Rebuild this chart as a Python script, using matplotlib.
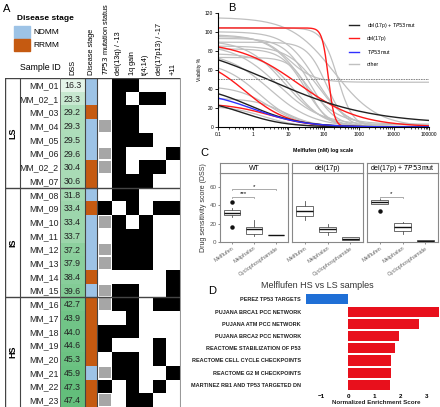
import numpy as np
import matplotlib
matplotlib.use("Agg")
import matplotlib.pyplot as plt
from matplotlib.patches import Rectangle
from matplotlib.lines import Line2D
from matplotlib.colors import LinearSegmentedColormap, Normalize

plt.rcParams["font.family"] = ["Liberation Sans", "DejaVu Sans"]

# ---------------- data: panel A ----------------
sample_ids = ["MM_01", "MM_02_1", "MM_03", "MM_04", "MM_05", "MM_06", "MM_02_2", "MM_07",
              "MM_08", "MM_09", "MM_10", "MM_11", "MM_12", "MM_13", "MM_14", "MM_15",
              "MM_16", "MM_17", "MM_18", "MM_19", "MM_20", "MM_21", "MM_22", "MM_23"]
dss = [16.3, 23.3, 29.2, 29.3, 29.5, 29.6, 30.4, 30.6,
       31.8, 33.4, 33.4, 33.7, 37.2, 37.9, 38.4, 39.6,
       42.7, 43.9, 44.0, 44.6, 45.3, 45.9, 47.3, 47.4]
groups = ["LS", "IS", "HS"]
group_sizes = [8, 8, 8]
# disease stage: N = NDMM, R = RRMM
stage = ["N", "N", "R", "N", "N", "N", "R", "R",
         "N", "R", "N", "N", "N", "N", "R", "N",
         "R", "R", "R", "R", "R", "N", "R", "R"]
# TP53 status: 0 = none, 1 = grey, 2 = black
tp53 = [0, 0, 0, 1, 0, 1, 1, 0,
        0, 2, 1, 0, 1, 1, 0, 1,
        1, 0, 2, 2, 0, 1, 2, 1]
cyto_labels = ["del(13q) / -13", "1q gain", "t(4;14)", "del(17p13) / -17", "+11"]
del13q = [1, 1, 1, 1, 1, 1, 1, 1, 1, 0, 1, 1, 1, 1, 0, 1, 1, 0, 1, 0, 1, 1, 0, 0]
gain1q = [1, 0, 1, 1, 1, 0, 0, 1, 1, 1, 0, 1, 1, 1, 0, 1, 1, 1, 1, 0, 1, 1, 1, 1]
t414 = [0, 1, 0, 0, 1, 0, 1, 1, 0, 0, 1, 1, 1, 1, 0, 0, 0, 0, 0, 0, 0, 0, 0, 1]
del17p = [0, 1, 0, 0, 0, 0, 1, 0, 0, 1, 0, 0, 0, 0, 0, 0, 1, 0, 0, 1, 1, 0, 1, 0]
plus11 = [0, 0, 0, 0, 0, 1, 0, 0, 0, 1, 0, 0, 0, 0, 1, 1, 1, 0, 0, 0, 0, 1, 0, 0]

# ---------------- data: panel B (fitted curves: top, bottom, EC50 nM, hill) ----------------
curves_other = [(115, 0, 200, 0.7), (100, 0, 60, 1.0), (97, 3, 25, 0.9), (95, 47, 10, 1.2),
                (93, 0, 40, 1.2), (91, 0, 8, 0.8), (89, 0, 120, 1.6), (87, 2, 5, 0.7),
                (85, 0, 70, 1.0), (82, 0, 30, 1.3), (79, 0, 3, 0.7), (77, 0, 15, 1.0),
                (73, 0, 40, 1.6), (69, 0, 1.5, 0.8), (43, 0, 3, 0.9), (30, 0, 8, 1.0),
                (22, 0, 2, 0.9), (104, 0, 250, 2.0)]
curves_del17p = [(104, 0, 137, 5.0), (90, 0, 20, 0.5), (75, 0, 0.6, 0.7), (25, 0, 3, 0.7)]
curves_both = [(95, 3, 3, 0.3), (45, 0, 0.8, 0.6), (30, 0, 0.5, 0.7)]
curves_tp53 = [(38, 0, 1.0, 0.6)]

# ---------------- data: panel C (box summaries) ----------------
drugs = ["Melflufen", "Melphalan", "Cyclophosphamide"]
facets = ["WT", "del(17p)", r"del(17p) + $\it{TP53}$mut"]
box_q1 = [[29.5, 8.7, 7.0], [28.4, 10.2, 2.2], [41.0, 11.3, 1.0]]
box_med = [[32.0, 13.8, 7.2], [34.0, 13.8, 3.5], [43.6, 16.0, 1.2]]
box_q3 = [[35.0, 16.0, 7.4], [39.6, 16.7, 4.7], [45.8, 20.4, 1.4]]
box_lo = [[27.0, 6.5, 7.0], [24.0, 7.6, 2.2], [41.0, 8.0, 1.0]]
box_hi = [[37.4, 24.0, 7.4], [44.7, 19.6, 4.7], [46.5, 22.0, 1.4]]
box_out = [[[43.6, 16.0], [], []], [[], [], []], [[33.8], [], []]]

# ---------------- data: panel D ----------------
gene_sets = ["PEREZ TP53 TARGETS", "PUJANA BRCA1 PCC NETWORK", "PUJANA ATM PCC NETWORK",
             "PUJANA BRCA2 PCC NETWORK", "REACTOME STABILIZATION OF P53",
             "REACTOME CELL CYCLE CHECKPOINTS", "REACTOME G2 M CHECKPOINTS",
             "MARTINEZ RB1 AND TP53 TARGETED DN"]
nes = [-1.6, 3.45, 2.68, 1.93, 1.78, 1.64, 1.62, 1.61]

W, H = 440, 407
fig = plt.figure(figsize=(W / 100, H / 100), dpi=100)


def rect(x0, y0, x1, y1):
    return [x0 / W, 1 - y1 / H, (x1 - x0) / W, (y1 - y0) / H]


over = fig.add_axes([0, 0, 1, 1], zorder=-5)
over.set_xlim(0, W)
over.set_ylim(H, 0)
over.axis("off")

for lab, x, y in [("A", 3, 9), ("B", 228, 8), ("C", 200, 153), ("D", 208, 291)]:
    over.text(x, y, lab, fontsize=8, va="center", ha="left")

# ---------------- Panel A ----------------
blue_c, orange_c, grey_c = "#9dc3e6", "#c55a11", "#a6a6a6"
over.text(17, 18, "Disease stage", fontsize=6, fontweight="bold", va="center")
over.add_patch(Rectangle((14, 26), 16, 12, color=blue_c))
over.add_patch(Rectangle((14, 39), 16, 12, color=orange_c))
over.text(33, 32.5, "NDMM", fontsize=6, va="center")
over.text(33, 45.5, "RRMM", fontsize=6, va="center")

axA = fig.add_axes(rect(5, 78, 181, 407))
axA.set_xlim(5, 181)
axA.set_ylim(len(sample_ids), 0)
axA.axis("off")

cols = {"grp": (5, 20), "id": (20, 60), "dss": (60, 85), "stage": (85, 97)}
heat_x = [98, 112, 125.5, 139, 152.5, 166, 180]
cmap = LinearSegmentedColormap.from_list("g", ["#e4f4e8", "#63be7b"])
norm = Normalize(min(dss), max(dss))
n = len(sample_ids)
for i in range(n):
    x0, x1 = cols["dss"]
    axA.add_patch(Rectangle((x0, i), x1 - x0, 1, color=cmap(norm(dss[i])), lw=0))
    axA.text((x0 + x1) / 2, i + 0.55, f"{dss[i]:.1f}", ha="center", va="center",
             fontsize=6.3, color="#222222")
    axA.text(58.5, i + 0.55, sample_ids[i], ha="right", va="center", fontsize=6.3,
             color="#222222")
    x0, x1 = cols["stage"]
    axA.add_patch(Rectangle((x0, i), x1 - x0, 1,
                            color=blue_c if stage[i] == "N" else orange_c, lw=0))
    if tp53[i] == 1:
        axA.add_patch(Rectangle((heat_x[0] + 0.8, i + 0.08), heat_x[1] - heat_x[0] - 1.6, 0.84,
                                color=grey_c, lw=0))
    elif tp53[i] == 2:
        axA.add_patch(Rectangle((heat_x[0], i), heat_x[1] - heat_x[0], 1, color="black", lw=0))
    for j, col in enumerate([del13q, gain1q, t414, del17p, plus11]):
        if col[i]:
            axA.add_patch(Rectangle((heat_x[j + 1], i), heat_x[j + 2] - heat_x[j + 1], 1,
                                    color="black", lw=0))

# grid lines
start = 0
for g, sz in zip(groups, group_sizes):
    axA.text(12.5, start + sz / 2, g, rotation=90, ha="center", va="center",
             fontsize=6.5, fontweight="bold")
    start += sz
    if start < n:
        axA.plot([5, 180], [start, start], color="#444444", lw=1.0)
axA.plot([5, 180], [0, 0], color="#444444", lw=1.0)
for xv, c, lw in [(5.3, "#444444", 1.0), (20, "#444444", 0.8), (60, "#666666", 0.6),
                  (85, "#444444", 0.8), (97, "#444444", 0.8), (180, "#999999", 0.8)]:
    axA.plot([xv, xv], [0, n], color=c, lw=lw)

# headers
axA.text(40, -0.45, "Sample ID", ha="center", va="bottom", fontsize=6.3, clip_on=False)
headers = ["DSS", "Disease stage", r"$\it{TP53}$ mutation status"] + cyto_labels
hx = [72.5, 91, 105] + [(heat_x[j] + heat_x[j + 1]) / 2 for j in range(1, 6)]
for t, x in zip(headers, hx):
    axA.text(x, -0.25, t, rotation=90, ha="center", va="bottom", fontsize=5.3, clip_on=False)

# ---------------- Panel B ----------------
axB = fig.add_axes(rect(218, 12.7, 429, 127))
conc = np.logspace(-1, 5, 400)


def logistic(p):
    top, bot, ec50, hill = p
    return bot + (top - bot) / (1 + (conc / ec50) ** hill)


for p in curves_other:
    axB.plot(conc, logistic(p), color="#c0c0c0", lw=0.9)
for p in curves_del17p:
    axB.plot(conc, logistic(p), color="#ff1a1a", lw=1.0)
for p in curves_both:
    axB.plot(conc, logistic(p), color="#222222", lw=1.0)
for p in curves_tp53:
    axB.plot(conc, logistic(p), color="#3030ff", lw=1.0)
axB.axhline(50, color="#777777", lw=0.6, ls=(0, (2, 1)))
axB.set_xscale("log")
axB.set_xlim(0.1, 100000)
axB.set_ylim(0, 120)
axB.set_yticks(range(0, 121, 20))
axB.set_xticks([0.1, 1, 10, 100, 1000, 10000, 100000])
axB.set_xticklabels(["0.1", "1", "10", "100", "1000", "10000", "100000"])
axB.tick_params(labelsize=3.5, length=2, width=0.6, pad=1.5)
axB.tick_params(which="minor", length=1.2, width=0.5)
for s in ["top", "right"]:
    axB.spines[s].set_visible(False)
for s in ["left", "bottom"]:
    axB.spines[s].set_linewidth(0.8)
axB.set_ylabel("Viability %", fontsize=3.6, labelpad=2)
axB.set_xlabel("Melflufen (nM) log scale", fontsize=3.8, fontweight="bold", labelpad=8)
handles = [Line2D([], [], color="#222222", lw=1), Line2D([], [], color="#ff1a1a", lw=1),
           Line2D([], [], color="#3030ff", lw=1), Line2D([], [], color="#c0c0c0", lw=1)]
axB.legend(handles, [r"del(17p) + $\it{TP53}$mut", "del(17p)", r"$\it{TP53}$mut", "other"],
           loc="upper left", bbox_to_anchor=(0.6, 0.97), frameon=False, fontsize=3.8,
           handlelength=1.8, labelspacing=1.2, handletextpad=1.5)

# ---------------- Panel C ----------------
facet_x = [(220, 288), (292, 363), (367, 438)]
sig = [[(1, 2, 49.5, "***"), (1, 3, 57.5, "*")], [], [(1, 2, 49.5, "*")]]
for k, (x0, x1) in enumerate(facet_x):
    ax = fig.add_axes(rect(x0, 173, x1, 242))
    stats = []
    for d in range(3):
        stats.append(dict(med=box_med[k][d], q1=box_q1[k][d], q3=box_q3[k][d],
                          whislo=box_lo[k][d], whishi=box_hi[k][d], fliers=box_out[k][d]))
    ax.bxp(stats, positions=[1, 2, 3], widths=0.75, patch_artist=True,
           boxprops=dict(facecolor="white", edgecolor="#555555", lw=0.6),
           medianprops=dict(color="#111111", lw=1.0),
           whiskerprops=dict(color="#555555", lw=0.6),
           capprops=dict(lw=0),
           flierprops=dict(marker="o", markersize=2.2, markerfacecolor="#111111",
                           markeredgecolor="#111111"))
    for a, b, yv, s in sig[k]:
        ax.plot([a, a, b, b], [yv - 1.2, yv, yv, yv - 1.2], color="#888888", lw=0.5)
        ax.text((a + b) / 2, yv + 0.3, s, ha="center", va="bottom", fontsize=4.5)
    ax.set_xlim(0.45, 3.55)
    ax.set_ylim(-0.3, 75.5)
    ax.set_xticks([1, 2, 3])
    ax.set_xticklabels(drugs, rotation=35, ha="right", rotation_mode="anchor",
                       fontsize=4, color="#666666")
    ax.tick_params(axis="x", length=1.5, width=0.5, pad=1, colors="#666666")
    if k == 0:
        ax.set_yticks([0, 20, 40, 60])
        ax.tick_params(axis="y", labelsize=4.5, length=1.5, width=0.5, pad=1, colors="#555555")
        ax.set_ylabel("Drug sensitivity score (DSS)", fontsize=5, labelpad=2, color="#333333")
    else:
        ax.set_yticks([])
    for s in ax.spines.values():
        s.set_color("#888888")
        s.set_linewidth(0.8)
    st = fig.add_axes(rect(x0, 163, x1, 173))
    st.set_xticks([])
    st.set_yticks([])
    for s in st.spines.values():
        s.set_color("#888888")
        s.set_linewidth(0.8)
    st.text(0.5, 0.5, facets[k], ha="center", va="center", fontsize=5, transform=st.transAxes)

# ---------------- Panel D ----------------
axD = fig.add_axes(rect(305, 292, 440, 392.3))
ypos = np.arange(len(gene_sets))
colors = ["#1f6fd6" if v < 0 else "#e8101c" for v in nes]
axD.barh(ypos, nes, height=0.82, color=colors)
axD.set_ylim(len(gene_sets) - 0.4, -0.6)
axD.set_xlim(-1.635, 3.49)
axD.set_yticks(ypos)
axD.set_yticklabels(gene_sets, fontsize=4, fontweight="bold", color="#222222")
axD.set_xticks([-1, 0, 1, 2, 3])
axD.tick_params(length=0, pad=3)
axD.tick_params(axis="x", labelsize=4.5, pad=1.5)
for lbl in axD.get_xticklabels():
    lbl.set_fontweight("bold")
for s in axD.spines.values():
    s.set_visible(False)
over.text(376, 402.5, "Normalized Enrichment Score", fontsize=4.5, fontweight="bold",
          ha="center", va="center", color="#222222")
over.text(317, 286, "Melflufen HS vs LS samples", fontsize=6.5, ha="center", va="center",
          color="#333333")

fig.savefig("out.png", dpi=100)
